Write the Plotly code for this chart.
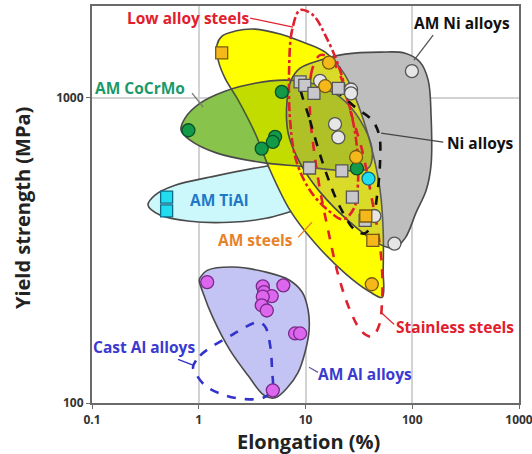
import plotly.graph_objects as go

# ---------------- measured points: elongation (%) and yield strength (MPa) ----------------
steel_sq_x = [1.64, 36.7, 42.7]
steel_sq_y = [1405, 410, 341]
steel_ci_x = [16.6, 15.3, 29.8, 41.8]
steel_ci_y = [1304, 1092, 640, 245]

ni_sq_x = [8.9, 9.85, 12.0, 20.3, 10.9, 21.9, 27.5, 36.2]
ni_sq_y = [1128, 1098, 1034, 1074, 589, 576, 473, 397]
ni_ci_x = [13.7, 26.7, 26.7, 18.9, 20.3, 44.2, 68.1, 99.2]
ni_ci_y = [1137, 1065, 1034, 820, 742, 410, 333, 1223]

cocrmo_x = [0.80, 3.89, 5.19, 4.94, 6.0, 30.3]
cocrmo_y = [783, 682, 745, 717, 1046, 587]

tial_sq_x = [0.50, 0.50]
tial_sq_y = [473, 426]
tial_ci_x = [38.9]
tial_ci_y = [544]

al_x = [1.20, 6.2, 3.98, 4.09, 4.83, 3.98, 3.89, 4.34, 7.99, 8.9, 4.94]
al_y = [249, 243, 241, 231, 224, 223, 209, 201, 169, 169, 110]

# ---------------- property envelopes (closed outlines) ----------------
steels_env_x = [1.52, 1.48, 1.65, 2.19, 3.37, 5.78, 8.9, 15.3, 23.5, 32.5, 42.1, 50.0, 53.4,
                53.4, 52.2, 40.3, 23.5, 12.3, 7.17, 4.66, 3.37, 2.34, 1.76]
steels_env_y = [1329, 1489, 1594, 1655, 1680, 1618, 1535, 1412, 1187, 911, 674, 498, 368,
                272, 222, 231, 266, 334, 428, 579, 766, 983, 1160]

cocrmo_env_x = [0.683, 0.744, 1.03, 1.76, 3.37, 6.44, 12.3, 21.1, 32.5, 42.1, 38.6, 21.1,
                8.9, 4.27, 1.48, 0.828]
cocrmo_env_y = [783, 858, 961, 1052, 1117, 1143, 1109, 1005, 845, 674, 588, 579,
                597, 611, 659, 727]

tial_env_x = [0.335, 0.389, 0.600, 1.28, 4.27, 13.7, 34.7, 47.9, 44.9, 26.2, 11.0, 4.27,
              1.96, 0.828, 0.433]
tial_env_y = [445, 480, 517, 550, 597, 625, 639, 611, 558, 498, 445, 403,
              391, 394, 413]

ni_env_x = [8.9, 13.7, 23.5, 50.0, 85.8, 118.6, 141, 150, 150, 135, 109, 85.8, 67.6,
            50.0, 26.2, 13.7, 8.9, 6.87, 6.72, 7.33]
ni_env_y = [1252, 1329, 1391, 1412, 1401, 1309, 1143, 878, 602, 498, 422, 347, 322,
            331, 391, 491, 611, 766, 983, 1143]

al_env_x = [1.05, 1.20, 2.10, 4.37, 7.02, 9.29, 10.6, 10.8, 9.91, 8.53, 6.72, 5.19, 4.09,
            2.90, 1.96, 1.36, 1.10, 1.01]
al_env_y = [260, 272, 279, 268, 253, 231, 201, 173, 147, 126, 112, 104, 106,
            123, 149, 190, 229, 253]

# conventional alloy ranges (dashed outlines)
low_alloy_x = [8.9, 7.49, 7.02, 7.17, 8.16, 11.0, 16.3, 22.5, 28.5, 31.1, 29.8, 25.1, 20.3, 15.3, 11.8]
low_alloy_y = [1939, 1667, 1232, 845, 625, 498, 428, 400, 435, 537, 727, 983, 1280, 1606, 1866]

stainless_x = [13.7, 11.5, 11.0, 12.0, 13.7, 16.3, 20.3, 26.2, 33.9, 42.1, 49.0, 52.2, 52.2,
               49.0, 42.1, 33.9, 26.2, 21.1, 17.0]
stainless_y = [1380, 1232, 911, 674, 498, 368, 262, 201, 171, 165, 180, 217, 272,
               342, 462, 674, 911, 1187, 1350]

ni_wrought_x = [8.9, 11.0, 15.3, 21.1, 29.2, 36.2, 42.1, 46.9, 50.0, 49.0, 42.1, 29.2, 20.3, 13.1, 9.91]
ni_wrought_y = [1126, 845, 579, 438, 368, 360, 391, 480, 625, 755, 845, 932, 1036, 1117, 1134]

cast_al_x = [0.884, 1.03, 2.10, 3.60, 4.18, 4.66, 4.86, 4.86, 4.01, 2.72, 1.76, 1.15, 0.923]
cast_al_y = [131, 143, 168, 184, 178, 155, 128, 110, 104, 103, 106, 114, 126]

# ---------------- label leaders ----------------
leaders = {
    "low_alloy": ([3.03, 7.65], [1825, 1705], "#e0202c"),
    "am_ni": ([157, 104], [1606, 1329], "#555555"),
    "cocrmo": ([0.865, 1.10], [1036, 932], "#777777"),
    "ni": ([51.1, 195], [766, 716], "#444444"),
    "am_steels": ([8.53, 11.5], [349, 391], "#e8822a"),
    "am_al": ([10.8, 13.1], [131, 126], "#6060a0"),
    "stainless": ([51.1, 67.6], [198, 181], "#e0202c"),
    "cast_al": ([0.640, 0.884], [139, 133], "#3030c8"),
}

label_text = ["Low alloy steels", "AM Ni alloys", "AM CoCrMo", "AM TiAl", "Ni alloys",
              "AM steels", "AM Al alloys", "Stainless steels", "Cast Al alloys"]
label_color = ["#e0202c", "#111111", "#1a9a6a", "#1f78c8", "#111111",
               "#e8822a", "#3a3ad0", "#e0202c", "#3a3ad0"]
label_px = [0.2237, 0.8665, 0.1124, 0.2974, 0.911, 0.384, 0.639, 0.850, 0.1218]
label_py = [0.970, 0.957, 0.793, 0.511, 0.655, 0.411, 0.073, 0.191, 0.141]

x_title = "Elongation (%)"
y_title = "Yield strength (MPa)"

fig = go.Figure()


def envelope(xs, ys, fill, line_color="#4a4a4a", width=1.6):
    line = dict(color=line_color, width=width, shape="spline", smoothing=1.0)
    if line_color is None:
        line.update(width=0, color="rgba(0,0,0,0)")
    fig.add_trace(go.Scatter(
        x=xs + xs[:1], y=ys + ys[:1], mode="lines", fill="toself", fillcolor=fill,
        line=line, hoverinfo="skip", showlegend=False))


def loop(xs, ys, color, dash, width=2.6):
    fig.add_trace(go.Scatter(
        x=xs + xs[:1], y=ys + ys[:1], mode="lines",
        line=dict(color=color, width=width, dash=dash, shape="spline", smoothing=1.0),
        hoverinfo="skip", showlegend=False))


def points(xs, ys, symbol, fill, edge, size=13):
    fig.add_trace(go.Scatter(
        x=xs, y=ys, mode="markers",
        marker=dict(symbol=symbol, size=size, color=fill, line=dict(color=edge, width=1.3)),
        showlegend=False))


# opaque base fills
envelope(al_env_x, al_env_y, "rgb(196,196,244)")
envelope(tial_env_x, tial_env_y, "rgb(204,248,252)")
envelope(ni_env_x, ni_env_y, "rgb(215,215,215)", None)
envelope(cocrmo_env_x, cocrmo_env_y, "rgb(171,219,110)", None)
envelope(steels_env_x, steels_env_y, "rgb(255,255,0)")
# translucent tints so overlaps read through the yellow band
envelope(cocrmo_env_x, cocrmo_env_y, "rgba(55,138,0,0.3)")
envelope(ni_env_x, ni_env_y, "rgba(132,132,132,0.3)")

loop(cast_al_x, cast_al_y, "#3333cc", "dash")
loop(low_alloy_x, low_alloy_y, "#e0202c", "dashdot")
loop(stainless_x, stainless_y, "#e0202c", "dash")
loop(ni_wrought_x, ni_wrought_y, "#111111", "dash")

for lx, ly, col in leaders.values():
    fig.add_trace(go.Scatter(x=lx, y=ly, mode="lines", line=dict(color=col, width=1.3),
                             hoverinfo="skip", showlegend=False))

points(al_x, al_y, "circle", "#dd66ee", "#7a2a8a")
points(tial_sq_x, tial_sq_y, "square", "#22ddee", "#106a8a", 12)
points(tial_ci_x, tial_ci_y, "circle", "#22ddee", "#106a8a")
points(cocrmo_x, cocrmo_y, "circle", "#139a48", "#0a5028")
points(ni_sq_x, ni_sq_y, "square", "#c8c8cc", "#555555", 12)
points(ni_ci_x, ni_ci_y, "circle", "#e6e6e6", "#555555")
points(steel_sq_x, steel_sq_y, "square", "#f5b81a", "#7a5a10", 12)
points(steel_ci_x, steel_ci_y, "circle", "#f5b81a", "#7a5a10")

for t, c, px, py in zip(label_text, label_color, label_px, label_py):
    fig.add_annotation(x=px, y=py, xref="paper", yref="paper", text="<b>%s</b>" % t,
                       showarrow=False, font=dict(family="Open Sans", size=15.5, color=c),
                       xanchor="center", yanchor="middle")

title_font = dict(family="Open Sans", size=20, color="#222222")
fig.add_annotation(x=0.506, y=-0.097, xref="paper", yref="paper", text="<b>%s</b>" % x_title,
                   showarrow=False, font=title_font, xanchor="center", yanchor="middle")
fig.add_annotation(x=-0.164, y=0.491, xref="paper", yref="paper", text="<b>%s</b>" % y_title,
                   showarrow=False, font=title_font, textangle=-90,
                   xanchor="center", yanchor="middle")

axis_font = dict(family="Open Sans", size=12, color="#333333")
common = dict(tickfont=axis_font, showgrid=True, gridcolor="#d2d2d2", gridwidth=1.5,
              showline=True, linecolor="#6a6a6a", linewidth=2, mirror=True,
              ticks="outside", ticklen=4, tickcolor="#6a6a6a", zeroline=False,
              automargin=False, ticklabeloverflow="allow")
fig.update_xaxes(type="log", range=[-1, 3], tickvals=[0.1, 1, 10, 100, 1000],
                 ticktext=["<b>0.1</b>", "<b>1</b>", "<b>10</b>", "<b>100</b>", "<b>1000</b>"],
                 ticklabelstandoff=1, **common)
fig.update_yaxes(type="log", range=[2, 3.30103], tickvals=[100, 1000],
                 ticktext=["<b>100</b>", "<b>1000</b>"], **common)

fig.update_layout(width=532, height=454, margin=dict(l=92, r=13, t=6, b=51),
                  paper_bgcolor="white", plot_bgcolor="white", showlegend=False)

fig.write_html("out.html")
